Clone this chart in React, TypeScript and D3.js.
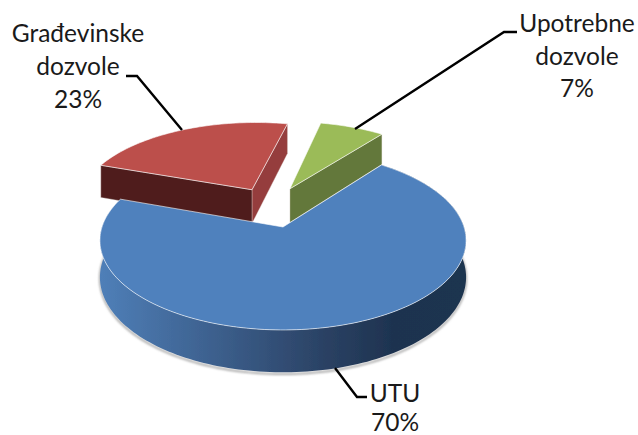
import React from "react";
import * as d3 from "d3";

const categories = ["UTU", "Građevinske dozvole", "Upotrebne dozvole"];
const values = [70, 23, 7];
const topColors = ["#4f81bd", "#bc4f4c", "#9bbb59"];
const startSideColors = ["#1f324d", "#4f1f1e", "#64783a"];
const endSideColors = ["#1f324d", "#953e3c", "#64783a"];
const explodeX = [0, -0.183, 0.041];
const explodeY = [0, -0.455, -0.468];
const drawOrder = [1, 2, 0];

const W = 638, H = 435;
const CX = 283, CY = 227, RX = 181, RY = 87.5, K = 0.15, DEPTH = 36;
const START_DEG = 37.5;

type P = [number, number];
const project = (X: number, Y: number, drop = 0): P => {
  const w = 1 - K * Y;
  return [CX + (RX * X) / w, CY + (RY * Y) / w + drop / w];
};

const pie = d3
  .pie<number>()
  .sort(null)
  .startAngle((START_DEG * Math.PI) / 180)
  .endAngle((START_DEG * Math.PI) / 180 + 2 * Math.PI);
const arcs = pie(values);
const line = d3.line<P>();

function rim(a0: number, a1: number, ox: number, oy: number, drop = 0): P[] {
  const n = Math.max(8, Math.ceil(Math.abs(a1 - a0) * 40));
  return d3.range(n + 1).map((i) => {
    const a = a0 + ((a1 - a0) * i) / n;
    return project(ox + Math.sin(a), oy - Math.cos(a), drop);
  });
}

const labelFont = "Lato, 'Open Sans', sans-serif";
const leaders: P[][] = [
  [[126, 76], [137, 76], [182, 130]],
  [[355, 129], [504, 32], [517, 32]],
  [[335, 368], [357, 397], [367, 397]],
];
const labels: { x: number; y: number; t: string }[] = [
  { x: 78, y: 42, t: "Građevinske" },
  { x: 78, y: 75, t: "dozvole" },
  { x: 78, y: 108, t: "23%" },
  { x: 577, y: 32, t: "Upotrebne" },
  { x: 577, y: 65, t: "dozvole" },
  { x: 577, y: 97, t: "7%" },
  { x: 395, y: 402, t: "UTU" },
  { x: 395, y: 431, t: "70%" },
];

export default function App() {
  const bluePie = arcs[0];
  const shadow = [
    ...rim(bluePie.startAngle, bluePie.endAngle, 0, 0, DEPTH + 1.5),
  ];
  return (
    <svg
      width={W}
      height={H}
      viewBox={`0 0 ${W} ${H}`}
      style={{ position: "absolute", left: 0, top: 0 }}
      aria-label={categories.join(", ")}
    >
      <defs>
        <linearGradient id="wall" x1="0" x2="1" y1="0" y2="0">
          <stop offset="0" stopColor="#4f7fb8" />
          <stop offset="0.3" stopColor="#3d618f" />
          <stop offset="0.62" stopColor="#2a4163" />
          <stop offset="0.8" stopColor="#1e3350" />
          <stop offset="1" stopColor="#1f344f" />
        </linearGradient>
        <filter id="soft" x="-5%" y="-5%" width="110%" height="110%">
          <feGaussianBlur stdDeviation="0.6" />
        </filter>
        <filter id="blur" x="-5%" y="-5%" width="110%" height="110%">
          <feGaussianBlur stdDeviation="1" />
        </filter>
      </defs>
      <g filter="url(#soft)">
        <path d={line(shadow) ?? ""} fill="none" stroke="#a8a8a8" strokeWidth={2} filter="url(#blur)" />
        {drawOrder.map((i) => {
          const s = arcs[i];
          const ox = explodeX[i], oy = explodeY[i];
          const apex = project(ox, oy);
          const apexB = project(ox, oy, DEPTH);
          const top = rim(s.startAngle, s.endAngle, ox, oy);
          const bottom = rim(s.startAngle, s.endAngle, ox, oy, DEPTH);
          const quad = (edge: P, edgeB: P): P[] => [apex, edge, edgeB, apexB];
          const startQuad = quad(top[0], bottom[0]);
          const endQuad = quad(top[top.length - 1], bottom[bottom.length - 1]);
          const wallPts: P[] = [...top, ...[...bottom].reverse()];
          const isBlue = i === 0;
          return (
            <g key={categories[i]}>
              {isBlue && <path d={(line(wallPts) ?? "") + "Z"} fill="url(#wall)" />}
              {d3.polygonArea(endQuad) < 0 && !isBlue && (
                <path d={(line(endQuad) ?? "") + "Z"} fill={endSideColors[i]} stroke="#e6dcdc" strokeOpacity={0.5} strokeWidth={0.7} />
              )}
              {d3.polygonArea(startQuad) > 0 && !isBlue && (
                <path d={(line(startQuad) ?? "") + "Z"} fill={startSideColors[i]} stroke="#e6dcdc" strokeOpacity={0.5} strokeWidth={0.7} />
              )}
              <path
                d={(line([apex, ...top]) ?? "") + "Z"}
                fill={topColors[i]}
                stroke="#ffffff"
                strokeOpacity={0.6}
                strokeWidth={1}
                strokeLinejoin="round"
              />
            </g>
          );
        })}
      </g>
      <g filter="url(#soft)">
        {leaders.map((l, i) => (
          <path key={i} d={line(l) ?? ""} fill="none" stroke="#000" strokeWidth={2.4} />
        ))}
      </g>
      {labels.map((l, i) => (
        <text key={i} x={l.x} y={l.y} textAnchor="middle" fontFamily={labelFont} fontSize={24.5} fill="#1a1a1a">
          {l.t}
        </text>
      ))}
    </svg>
  );
}
